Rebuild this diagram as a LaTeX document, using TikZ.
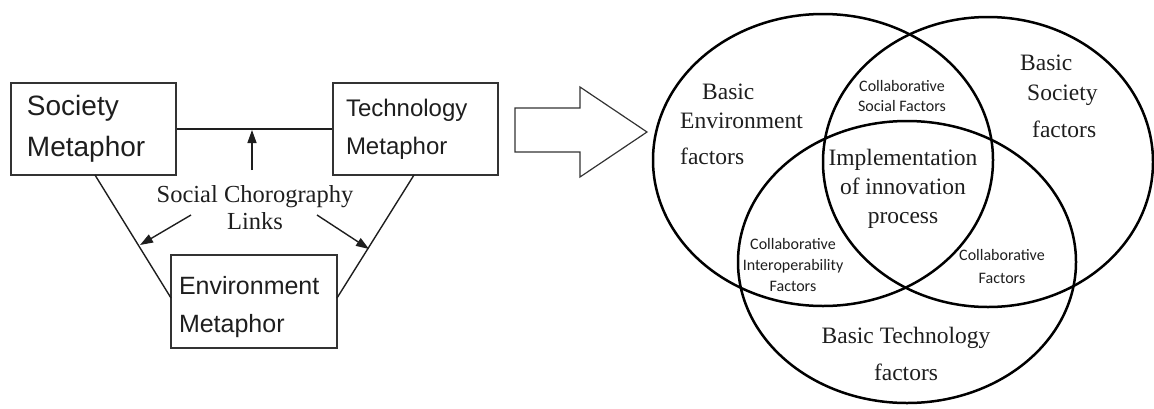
\documentclass[tikz,border=0pt]{standalone}
\usepackage{fontspec}
\usetikzlibrary{arrows.meta,shapes.geometric}
\newfontfamily\arialf{Liberation Sans}
\newfontfamily\timesf{Liberation Serif}
\newfontfamily\calibrif{Carlito}
\definecolor{ink}{HTML}{1E1E1E}
\definecolor{boxline}{HTML}{333333}
\begin{document}
\begin{tikzpicture}[x=1pt,y=-1pt,
  metabox/.style={draw=boxline,line width=1.6pt,rectangle,align=left,
    minimum height=92pt,inner ysep=0pt,text=ink},
  link/.style={draw=ink,line width=1.4pt},
  linkarrow/.style={link,-{Triangle[length=13pt,width=9pt]}},
  venn/.style={draw=black,line width=2.5pt,ellipse,inner sep=0pt},
  serifbig/.style={font=\timesf\fontsize{23.5}{29}\selectfont,text=ink,inner sep=0pt},
  smallsans/.style={font=\calibrif\fontsize{16}{20}\selectfont,text=ink,inner sep=0pt,align=center},
]
\useasboundingbox (0,0) rectangle (1154,408);

% --- metaphor triangle ---
\node[metabox,text width=133pt,inner xsep=16pt,
  font=\arialf\fontsize{28}{41}\selectfont] (soc) at (93.5,129) {Society\\Metaphor};
\node[metabox,text width=139pt,inner xsep=13pt,
  font=\arialf\fontsize{24}{38}\selectfont] (tech) at (415.5,129) {Technology\\Metaphor};
\node[metabox,text width=150pt,inner xsep=8pt,minimum height=93pt,
  font=\arialf\fontsize{25}{38}\selectfont] (env) at (254,301.5) {\rule{0pt}{30pt}Environment\\Metaphor};

\draw[link] (soc.east) -- (tech.east -| tech.west);
\coordinate (upfoot) at (252,170);
\coordinate (uptip) at (252,130);
\draw[linkarrow] (upfoot) -- (uptip);

\coordinate (socfoot) at (95,175);
\coordinate (techfoot) at (414,175);
\coordinate (envleft) at (171,298);
\coordinate (envright) at (337,298);
\draw[link] (socfoot) -- (envleft);
\draw[link] (techfoot) -- (envright);

\node[align=center,inner sep=0pt,text=ink,
  font=\timesf\fontsize{24.5}{27}\selectfont] (links) at (255,208) {Social Chorography\\Links};
\coordinate (lstart) at (191,215);
\coordinate (ltip) at (140,245);
\coordinate (rstart) at (317,215);
\coordinate (rtip) at (369,249);
\draw[linkarrow] (lstart) -- (ltip);
\draw[linkarrow] (rstart) -- (rtip);

% --- hollow block arrow ---
\draw[line width=1.2pt,draw=boxline,line join=miter]
  (515,108) -- (580,108) -- (580,87) -- (647,132) -- (580,177) -- (580,152) -- (515,152) -- cycle;

% --- Venn diagram ---
\node[venn,minimum width=340pt,minimum height=292pt] (envset) at (823,160) {};
\node[venn,minimum width=330pt,minimum height=290pt] (socset) at (988,162) {};
\node[venn,minimum width=338pt,minimum height=282pt] (techset) at (907,262) {};

\node[serifbig,align=left,anchor=west] (envlbl) at (680,124)
  {\hspace*{22pt}Basic\\Environment\\[7pt]factors};
\node[serifbig,align=left,anchor=west,font=\timesf\fontsize{23.5}{30}\selectfont] (soclbl) at (1020,96)
  {Basic\\\hspace*{7pt}Society\\[7pt]\hspace*{12pt}factors};
\node[serifbig,align=center] (impl) at (903,188.5)
  {Implementation\\of innovation\\process};
\node[serifbig,align=center,font=\timesf\fontsize{23.5}{37}\selectfont] (techlbl) at (906,353.5)
  {Basic Technology\\factors};

\node[smallsans] (csoc) at (902,96) {Collaborative\\Social Factors};
\node[smallsans,font=\calibrif\fontsize{16}{21}\selectfont] (cint) at (793,265)
  {Collaborative\\Interoperability\\Factors};
\node[smallsans,font=\calibrif\fontsize{16}{23}\selectfont] (cfac) at (1002,266)
  {Collaborative\\Factors};
\end{tikzpicture}
\end{document}
